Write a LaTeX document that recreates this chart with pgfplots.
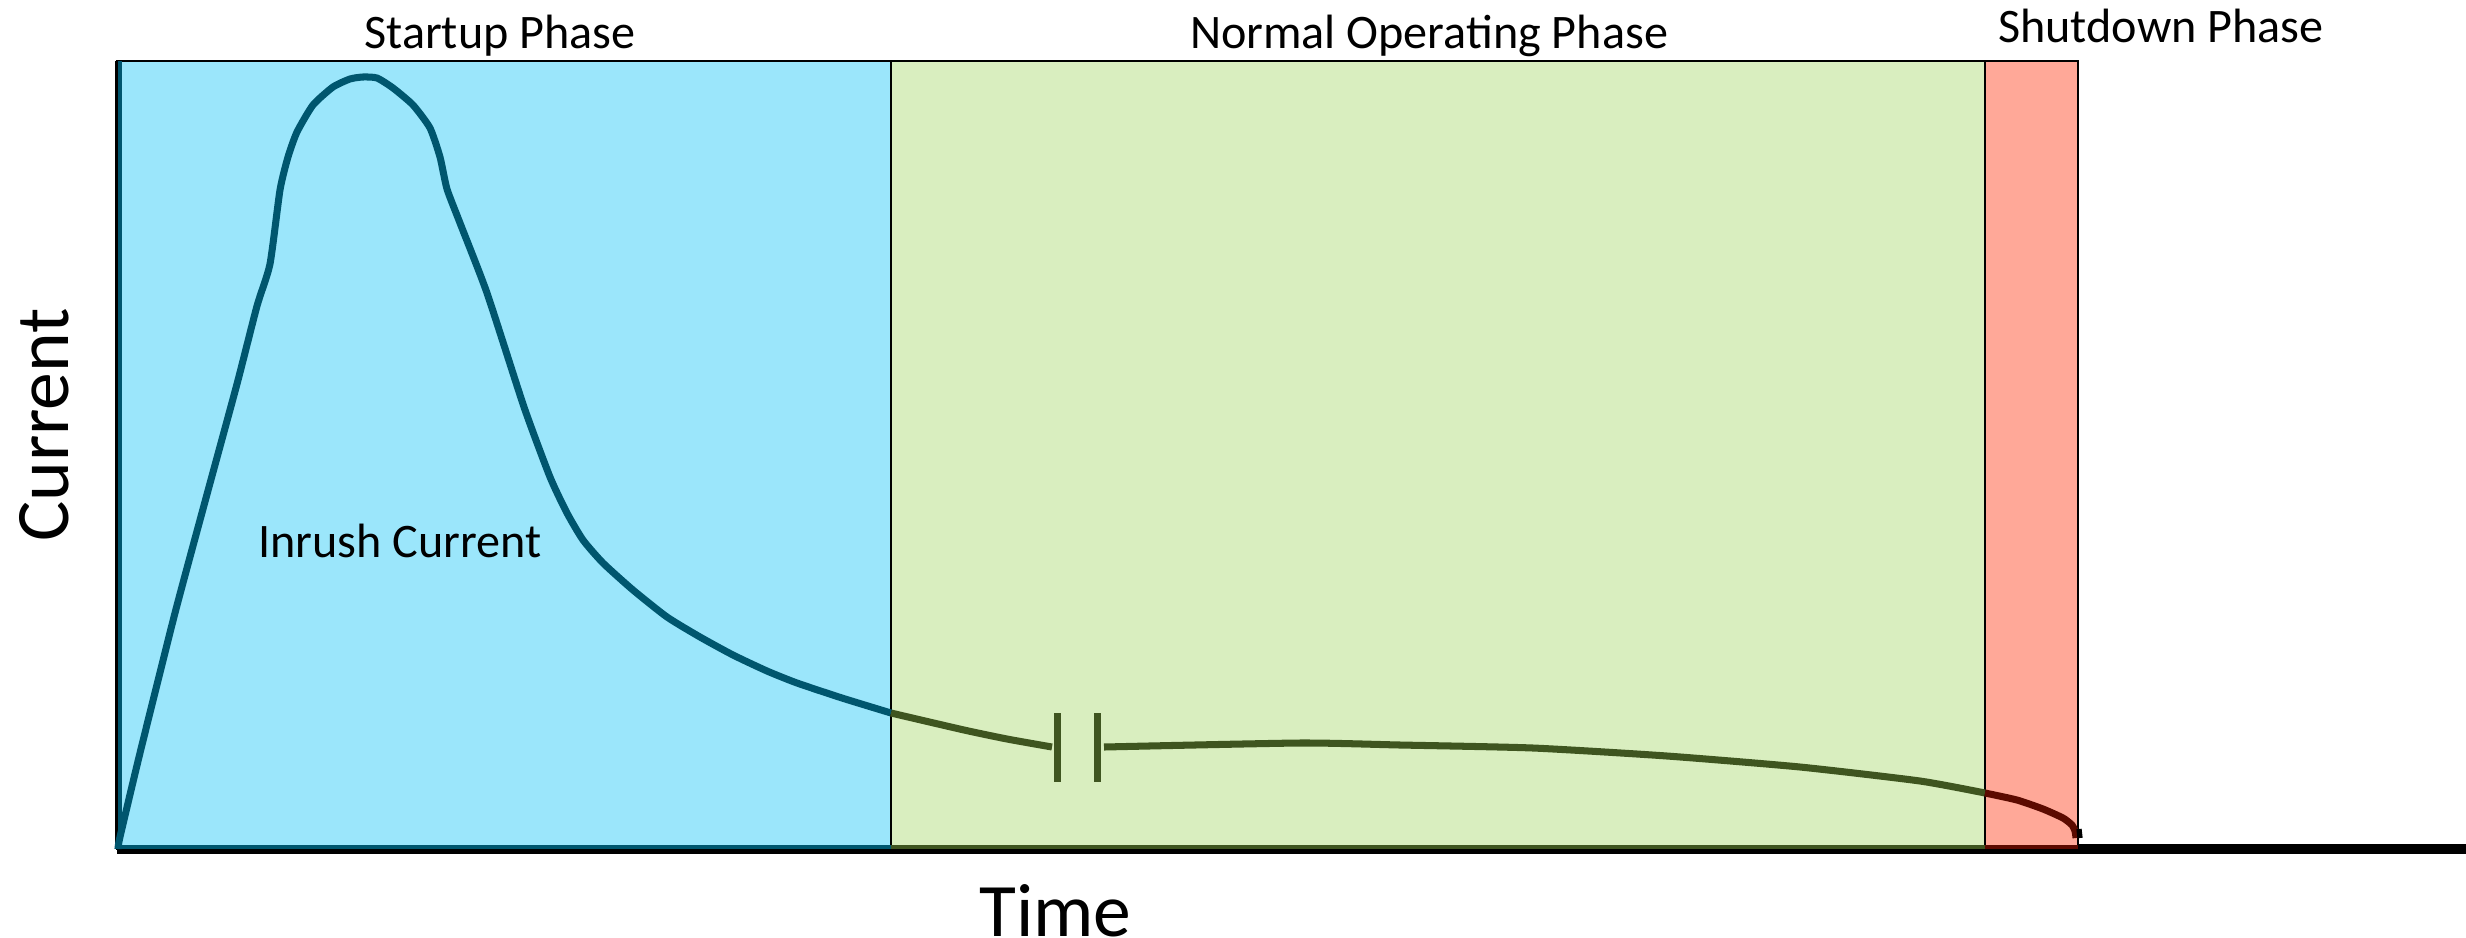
\documentclass[border=0pt]{standalone}
\usepackage{fontspec}
\setmainfont{Carlito}
\usepackage{pgfplots}
\pgfplotsset{compat=1.18}
\definecolor{sblue}{HTML}{9BE6FB}
\definecolor{sgreen}{HTML}{D9EEBF}
\definecolor{sred}{HTML}{FFA898}
\definecolor{cblue}{HTML}{00566E}
\definecolor{cgreen}{HTML}{3F5520}
\definecolor{cred}{HTML}{5C0A00}
\begin{document}
\begin{tikzpicture}
\begin{axis}[
  scale only axis, width=23.49cm, height=7.88cm,
  xmin=0, xmax=2349, ymin=0, ymax=788,
  axis x line=bottom, axis y line=left,
  x axis line style={-, line width=2.8pt, black},
  y axis line style={-, line width=1.2pt, black},
  xtick=\empty, ytick=\empty, clip=false,
  xlabel={\fontsize{21.5}{24}\selectfont Time},
  ylabel={\fontsize{21.5}{24}\selectfont Current},
  xlabel style={at={(axis description cs:0.3995,-0.078)},anchor=center,inner sep=0pt,outer sep=0pt},
  ylabel style={at={(axis description cs:-0.031,0.538)},anchor=center,inner sep=0pt,outer sep=0pt},
]
\addplot[fill=sblue,draw=black,line width=0.8pt] coordinates {(0,0)(774,0)(774,788)(0,788)} -- cycle;
\addplot[fill=sgreen,draw=black,line width=0.8pt] coordinates {(774,0)(1868,0)(1868,788)(774,788)} -- cycle;
\addplot[fill=sred,draw=black,line width=0.8pt] coordinates {(1868,0)(1961,0)(1961,788)(1868,788)} -- cycle;
\addplot[cblue,line width=1.1pt] coordinates {(0,2)(774,2)};
\addplot[cgreen,line width=1.1pt] coordinates {(774,2)(1868,2)};
\addplot[cred,line width=1.1pt] coordinates {(1868,2)(1961,2)};
\addplot[cblue,line width=0.9pt] coordinates {(3,0)(3,788)};
\addplot[cblue,line width=2pt,smooth,tension=0.35] coordinates {
(1,0)(3,12)(23,96)(58,236)(89,351)(120,465)(140,543)(153,585)(163,659)(171,692)(180,717)(196,744)(216,762)(233,770)(246,772)(260,771)(276,761)(296,744)(313,721)(323,692)(330,660)(343,626)(370,556)(407,442)(433,372)(450,336)(466,309)(486,286)(516,259)(550,232)(583,212)(616,194)(650,178)(680,166)(725,151)(774,136)};
\addplot[cgreen,line width=2pt,smooth,tension=0.35] coordinates {
(774,136)(847,119)(890,110)(935,102)};
\addplot[cgreen,line width=2pt,smooth,tension=0.35] coordinates {
(987,102)(1183,106)(1283,104)(1416,101)(1550,93)(1683,82)(1803,68)(1868,56)};
\addplot[cred,line width=2pt,smooth,tension=0.35] coordinates {
(1868,56)(1900,49)(1926,40)(1946,31)(1955,24)(1958,18)(1959,11)};
\addplot[black,line width=1.5pt] coordinates {(1962,20)(1963,11)};
\addplot[cgreen,line width=2pt] coordinates {(940,136)(940,67)};
\addplot[cgreen,line width=2pt] coordinates {(980,136)(980,67)};
\node[font=\fontsize{13.7}{16}\selectfont] at (axis cs:383,813) {Startup Phase};
\node[font=\fontsize{13.7}{16}\selectfont] at (axis cs:1312,813) {Normal Operating Phase};
\node[font=\fontsize{13.7}{16}\selectfont] at (axis cs:2044,823) {Shutdown Phase};
\node[font=\fontsize{13.7}{16}\selectfont] at (axis cs:283,308) {Inrush Current};
\coordinate (pa) at (axis cs:-117,-88);
\coordinate (pb) at (axis cs:2349,849);
\end{axis}
\pgfresetboundingbox
\path[use as bounding box] (pa) rectangle (pb);
\end{tikzpicture}
\end{document}
